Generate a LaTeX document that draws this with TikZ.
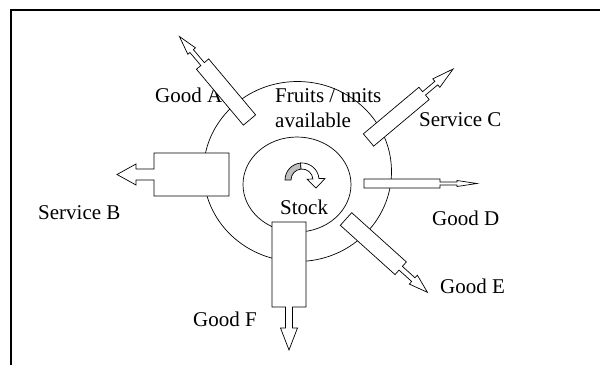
\documentclass[tikz,border=0pt]{standalone}
\usepackage{fontspec}
\setmainfont{Liberation Serif}
\tikzset{
  lbl/.style={anchor=base west, inner sep=0pt, font=\fontsize{21}{25.5}\selectfont},
  outl/.style={draw, line width=0.7pt},
  blk/.style={draw, fill=white, line width=0.7pt, line join=miter},
  frame/.style={draw, line width=1.3pt},
}
% back-end centre x, y, angle, body length, body width, shaft length, shaft width, head length, head width
\newcommand\blockarr[9]{%
\begin{scope}[shift={(#1,#2)},rotate=#3]
\draw[blk] (0,{-#5/2}) -- (#4,{-#5/2}) -- (#4,{-#7/2}) -- ({#4+#6},{-#7/2}) -- ({#4+#6},{-#9/2}) -- ({#4+#6+#8},0) -- ({#4+#6},{#9/2}) -- ({#4+#6},{#7/2}) -- (#4,{#7/2}) -- (#4,{#5/2}) -- (0,{#5/2}) -- cycle;
\end{scope}}
\begin{document}
\begin{tikzpicture}[x=1pt,y=-1pt]
\useasboundingbox (0,0) rectangle (600,365);
\draw[frame] (11,365) -- (11,10) -- (600,10);
% circles
\draw[outl] (297.5,171.5) ellipse [x radius=94, y radius=90];
\draw[outl] (297,184.5) ellipse [x radius=54, y radius=47.5];
% labels
\node[lbl] (goodA) at (155,102) {Good A};
\node[lbl] (fruits) at (275,102) {\vtop{\hbox{Fruits / units}\hbox{available}}};
\node[lbl] (servC) at (419,126) {Service C};
\node[lbl] (servB) at (38,219) {Service B};
\node[lbl] (goodD) at (432,225) {Good D};
\node[lbl] (goodE) at (440,293) {Good E};
\node[lbl] (goodF) at (193,326) {Good F};
\node[lbl] (stock) at (280,214) {Stock};
% block arrows
\blockarr{289}{222}{-90}{85}{34}{21}{7}{22}{17}
\blockarr{229}{174.5}{180}{75}{43}{18}{11}{19}{21}
\blockarr{249.5}{120}{130}{73}{16}{17}{4.5}{19}{10}
\blockarr{368.5}{140}{40}{72.5}{16}{16}{4.5}{22}{11}
\blockarr{364}{183.5}{0}{76}{9}{17}{3}{20}{6}
\blockarr{346}{219}{-42}{73.6}{17}{17}{5}{19}{12}
% centre circular arrow
\draw[outl, fill=black!25] (285,180) arc[start angle=180, end angle=265, radius=17]
  -- (301.04,169.04) arc[start angle=265, end angle=180, radius=11] -- cycle;
\draw[outl, fill=white, line join=miter] (300.52,163.06) arc[start angle=265, end angle=355, radius=17]
  -- (325,178.6) -- (316,188) -- (307,179.2) -- (312.96,179.04)
  arc[start angle=355, end angle=265, radius=11] -- cycle;
\end{tikzpicture}
\end{document}
